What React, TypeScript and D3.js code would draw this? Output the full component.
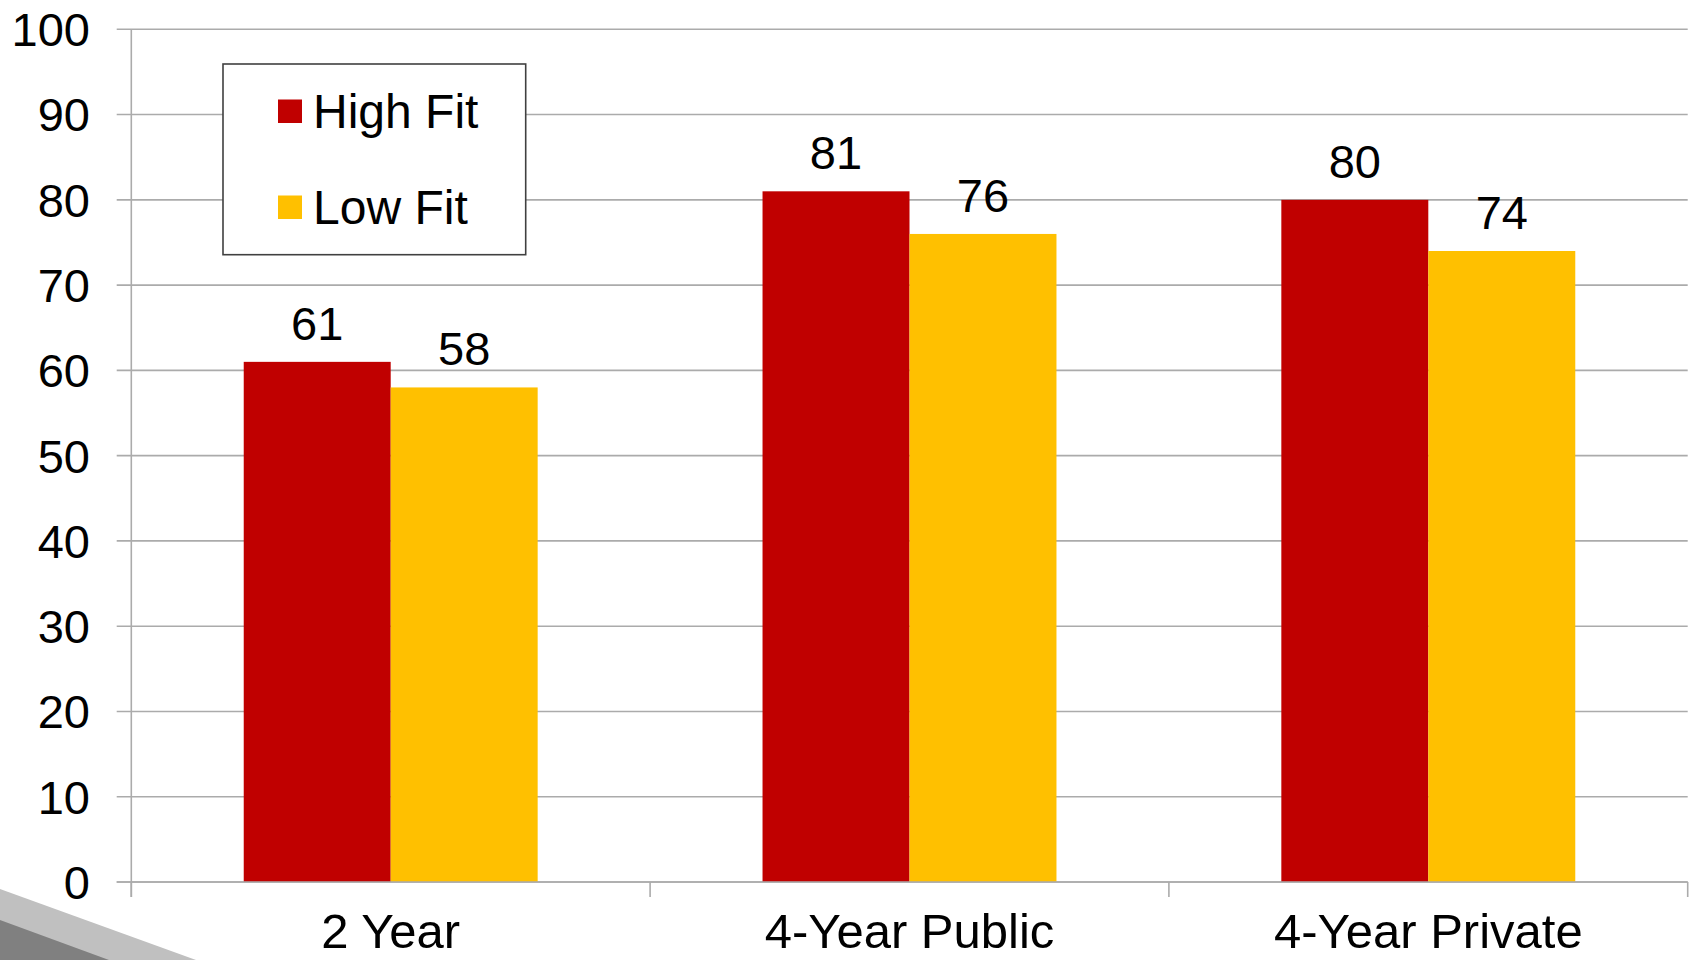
import React from "react";
import * as d3 from "d3";

const categories = ["2 Year", "4-Year Public", "4-Year Private"];
const seriesNames = ["High Fit", "Low Fit"];
const highFit = [61, 81, 80];
const lowFit = [58, 76, 74];
const yTicks = [0, 10, 20, 30, 40, 50, 60, 70, 80, 90, 100];
const seriesColors = ["#C00000", "#FFC000"];

const W = 1692;
const H = 960;
const FONT = "'Liberation Sans', Arial, sans-serif";

export default function App() {
  const left = 131.3;
  const right = 1687.7;
  const top = 29.3;
  const bottom = 882;

  const x = d3.scaleBand<string>().domain(categories).range([left, right]).paddingInner(0).paddingOuter(0);
  const inner = d3
    .scaleBand<string>()
    .domain(seriesNames)
    .range([0, x.bandwidth()])
    .paddingInner(0)
    .paddingOuter(0.765);
  const y = d3.scaleLinear().domain([0, 100]).range([bottom, top]);

  const values = [highFit, lowFit];
  const grid = "#ababab";

  return (
    <div style={{ position: "fixed", left: 0, top: 0 }}>
      <svg width={W} height={H} style={{ display: "block", background: "#fff" }}>
        {/* decorative corner stripes */}
        <polygon points="0,889 196,960 0,960" fill="#c0c0c0" />
        <polygon points="0,920 109,960 0,960" fill="#808080" />

        {/* horizontal gridlines and y labels */}
        {yTicks.map((t) => (
          <g key={t}>
            <line x1={116.7} x2={right} y1={y(t)} y2={y(t)} stroke={grid} strokeWidth={1.6} />
            <text
              x={90}
              y={y(t)}
              dy="0.36em"
              textAnchor="end"
              fontFamily={FONT}
              fontSize={47}
              fill="#000"
            >
              {t}
            </text>
          </g>
        ))}

        {/* y axis */}
        <line x1={left} x2={left} y1={top} y2={bottom + 15} stroke={grid} strokeWidth={1.6} />

        {/* x axis category ticks */}
        {categories.map((c) => (
          <line
            key={c}
            x1={x(c) as number}
            x2={x(c) as number}
            y1={bottom}
            y2={bottom + 15}
            stroke={grid}
            strokeWidth={1.6}
          />
        ))}
        <line x1={right} x2={right} y1={bottom} y2={bottom + 15} stroke={grid} strokeWidth={1.6} />

        {/* bars */}
        {categories.map((c, ci) =>
          seriesNames.map((s, si) => {
            const v = values[si][ci];
            const bx = (x(c) as number) + (inner(s) as number);
            return (
              <rect
                key={c + s}
                x={bx}
                y={y(v)}
                width={inner.bandwidth()}
                height={bottom - y(v)}
                fill={seriesColors[si]}
              />
            );
          })
        )}

        {/* baseline on top of bars */}
        <line x1={116.7} x2={right} y1={bottom} y2={bottom} stroke={grid} strokeWidth={1.6} />

        {/* value labels */}
        {categories.map((c, ci) =>
          seriesNames.map((s, si) => {
            const v = values[si][ci];
            const cx = (x(c) as number) + (inner(s) as number) + inner.bandwidth() / 2;
            return (
              <text
                key={"l" + c + s}
                x={cx}
                y={y(v) - 22}
                textAnchor="middle"
                fontFamily={FONT}
                fontSize={47}
                fill="#000"
              >
                {v}
              </text>
            );
          })
        )}

        {/* category labels */}
        {categories.map((c) => (
          <text
            key={"c" + c}
            x={(x(c) as number) + x.bandwidth() / 2}
            y={948}
            textAnchor="middle"
            fontFamily={FONT}
            fontSize={49}
            fill="#000"
          >
            {c}
          </text>
        ))}

        {/* legend */}
        <g>
          <rect x={223} y={64} width={302.7} height={190.7} fill="#fff" stroke="#404040" strokeWidth={1.6} />
          {seriesNames.map((s, i) => (
            <g key={"lg" + s} transform={`translate(0, ${i * 96})`}>
              <rect x={278} y={99.5} width={24} height={23.5} fill={seriesColors[i]} />
              <text x={313} y={128} fontFamily={FONT} fontSize={48} fill="#000">
                {s}
              </text>
            </g>
          ))}
        </g>
      </svg>
    </div>
  );
}
